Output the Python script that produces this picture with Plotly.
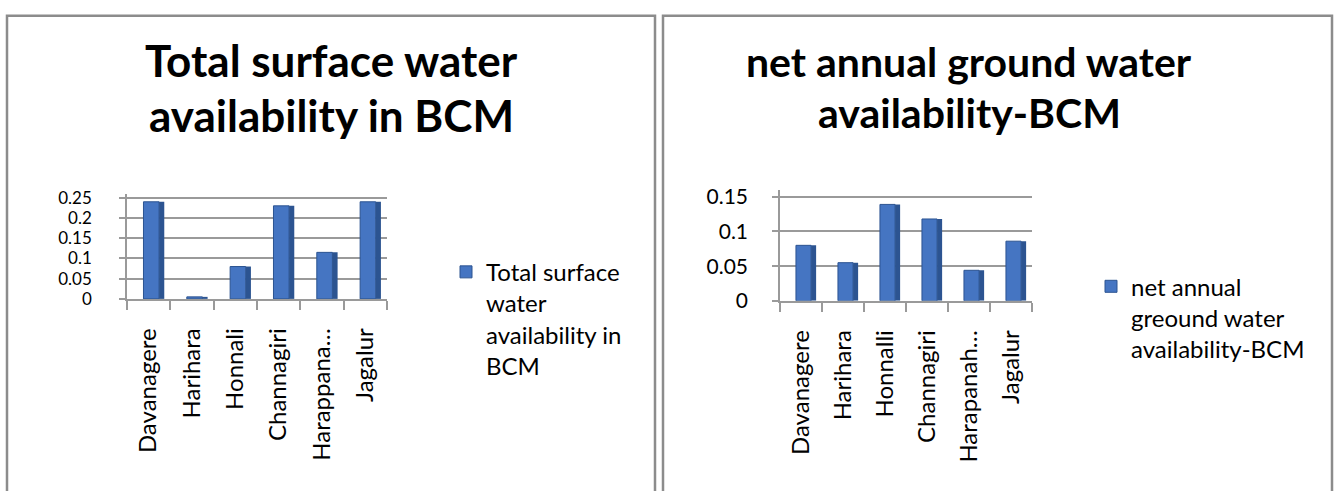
import plotly.graph_objects as go

W, H = 1334, 491

# left chart data
surface_labels = ["Davanagere", "Harihara", "Honnali", "Channagiri", "Harappana…", "Jagalur"]
surface_bcm = [0.24, 0.005, 0.08, 0.23, 0.115, 0.24]
surface_ticks = [0, 0.05, 0.1, 0.15, 0.2, 0.25]

# right chart data
ground_labels = ["Davanagere", "Harihara", "Honnalli", "Channagiri", "Harapanah…", "Jagalur"]
ground_bcm = [0.08, 0.055, 0.139, 0.118, 0.044, 0.086]
ground_ticks = [0, 0.05, 0.1, 0.15]

FONT = "Lato"
BLUE = "#4575c2"
SIDE = "#2c5491"
GRID = "#9a9a9a"


def px_x(v):
    return v / W


def px_y(v):
    return 1 - v / H


fig = go.Figure()


def add_bars(labels, values, name, xa, ya, lg):
    # front face
    fig.add_trace(go.Bar(
        x=labels, y=values, name=name, offset=-0.12, width=0.36,
        marker=dict(color=BLUE, line=dict(color=SIDE, width=1)),
        xaxis=xa, yaxis=ya, legend=lg,
    ))
    # darker side face for the pseudo 3d look
    fig.add_trace(go.Bar(
        x=labels, y=values, offset=0.24, width=0.12, showlegend=False, hoverinfo="skip",
        marker=dict(color=SIDE, line=dict(width=0)),
        xaxis=xa, yaxis=ya,
    ))


add_bars(surface_labels, surface_bcm, "Total surface<br>water<br>availability in<br>BCM",
         "x", "y", "legend")
add_bars(ground_labels, ground_bcm, "net annual<br>greound water<br>availability-BCM",
         "x2", "y2", "legend2")

xcommon = dict(
    type="category", tickangle=-90, tickfont=dict(family=FONT, size=24, color="black"),
    showline=True, linecolor=GRID, linewidth=1.5, ticks="outside", tickson="boundaries",
    ticklen=9, tickcolor=GRID, tickwidth=1.5, showgrid=False, ticklabelstandoff=18,
    fixedrange=True,
)
ycommon = dict(
    showline=True, linecolor=GRID, linewidth=1.5, ticks="outside", ticklen=6,
    tickcolor=GRID, tickwidth=1.5, showgrid=True, gridcolor=GRID, gridwidth=1.5,
    zeroline=False, fixedrange=True,
)

fig.update_layout(
    width=W, height=H,
    margin=dict(l=0, r=0, t=0, b=0),
    paper_bgcolor="white", plot_bgcolor="white",
    barmode="overlay",
    xaxis=dict(xcommon, domain=[px_x(127), px_x(387)], anchor="y"),
    yaxis=dict(ycommon, domain=[px_y(303), px_y(303 - 0.26 * 420)], anchor="x",
               range=[0, 0.26], tickvals=surface_ticks,
               ticktext=[f"{t:g}" for t in surface_ticks],
               tickfont=dict(family=FONT, size=17, color="black"), ticklabelstandoff=24),
    xaxis2=dict(xcommon, domain=[px_x(780), px_x(1032)], anchor="y2"),
    yaxis2=dict(ycommon, domain=[px_y(305), px_y(305 - 0.16 * 720)], anchor="x2",
                range=[0, 0.16], tickvals=ground_ticks,
                ticktext=[f"{t:g}" for t in ground_ticks],
                tickfont=dict(family=FONT, size=21, color="black"), ticklabelstandoff=20),
    legend=dict(x=px_x(446), y=px_y(252), xanchor="left", yanchor="top",
                font=dict(family=FONT, size=24, color="black"), valign="top",
                bgcolor="rgba(0,0,0,0)"),
    legend2=dict(x=px_x(1091), y=px_y(267), xanchor="left", yanchor="top",
                 font=dict(family=FONT, size=24, color="black"), valign="top",
                 bgcolor="rgba(0,0,0,0)"),
    showlegend=True,
)

# titles, one annotation per line
titles = [
    ("<b>Total surface water</b>", 331, 55, 44),
    ("<b>availability in BCM</b>", 331, 112, 44),
    ("<b>net annual ground water</b>", 969, 57, 41),
    ("<b>availability-BCM</b>", 969, 109, 41),
]
for txt, cx, cy, size in titles:
    fig.add_annotation(text=txt, x=px_x(cx), y=px_y(cy), xref="paper", yref="paper",
                       xanchor="center", yanchor="middle", showarrow=False,
                       font=dict(family=FONT, size=size, color="black"))

# panel frames
for x0, x1 in [(7, 655), (663, 1332)]:
    fig.add_shape(type="rect", xref="paper", yref="paper",
                  x0=px_x(x0), x1=px_x(x1), y0=-0.05, y1=px_y(9),
                  line=dict(color="#8c8c8c", width=2.5))

fig.write_html(
    "out.html",
    config={"displayModeBar": False},
    post_script="document.documentElement.style.margin='0';document.body.style.margin='0';"
                "document.body.style.overflow='hidden';",
)
